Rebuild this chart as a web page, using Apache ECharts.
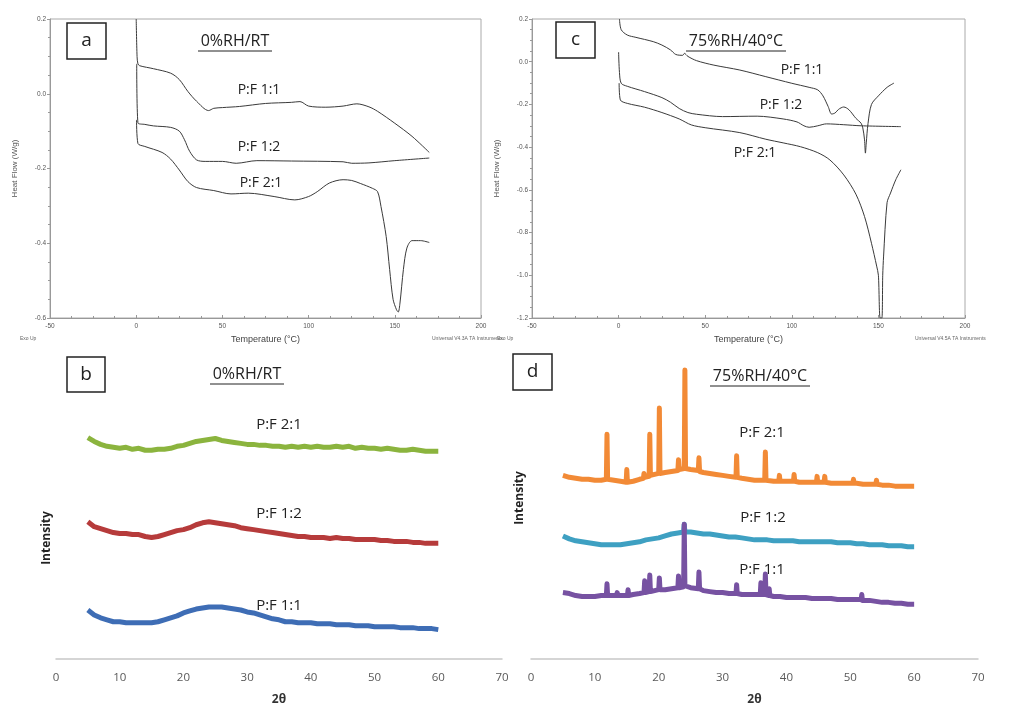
<!DOCTYPE html>
<html>
<head>
<meta charset="utf-8">
<script src="https://cdn.jsdelivr.net/npm/echarts@6/dist/echarts.min.js"></script>
<style>html,body{margin:0;padding:0;background:#fff;}#c{width:1011px;height:707px;}</style>
</head>
<body>
<div id="c"></div>
<script>
// ---------- DSC (panel a: 0%RH/RT) : [temperature °C, heat flow W/g] ----------
const dscA_11 = [[0,0.2],[0.5,0.1],[1,0.08],[2,0.075],[10,0.067],[20,0.055],[25,0.038],[30,0.006],[35,-0.02],[42,-0.045],[45,-0.039],[50,-0.037],[60,-0.034],[75,-0.026],[90,-0.023],[95,-0.021],[100,-0.033],[110,-0.036],[120,-0.033],[128,-0.027],[135,-0.035],[140,-0.047],[150,-0.079],[160,-0.114],[170,-0.157]];
const dscA_12 = [[0.3,0.08],[1,-0.078],[5,-0.082],[10,-0.086],[20,-0.09],[25,-0.1],[28,-0.123],[31,-0.154],[35,-0.177],[40,-0.181],[50,-0.181],[58,-0.186],[70,-0.179],[90,-0.18],[120,-0.182],[125,-0.186],[135,-0.185],[150,-0.179],[170,-0.172]];
const dscA_21 = [[0.2,-0.07],[1,-0.133],[5,-0.141],[15,-0.157],[20,-0.175],[25,-0.204],[30,-0.235],[35,-0.251],[45,-0.259],[55,-0.268],[65,-0.266],[80,-0.275],[92,-0.284],[100,-0.275],[105,-0.262],[112,-0.239],[120,-0.23],[125,-0.232],[130,-0.24],[137,-0.253],[140,-0.262],[142,-0.302],[145,-0.382],[147,-0.47],[149,-0.55],[151,-0.578],[152,-0.584],[153,-0.56],[155,-0.47],[157,-0.413],[160,-0.393],[165,-0.393],[170,-0.398]];
// ---------- DSC (panel c: 75%RH/40°C) ----------
const dscC_11 = [[0.5,0.2],[1.5,0.15],[5,0.125],[10,0.114],[20,0.094],[25,0.078],[30,0.055],[33,0.034],[37,0.03],[38,0.039],[40,0.025],[45,0.005],[55,-0.016],[70,-0.039],[85,-0.07],[100,-0.101],[110,-0.12],[115,-0.132],[118,-0.16],[121,-0.21],[123,-0.245],[125,-0.24],[127,-0.223],[130,-0.212],[133,-0.225],[137,-0.265],[140,-0.288],[141,-0.31],[142,-0.366],[142.5,-0.428],[143,-0.38],[144,-0.29],[146,-0.2],[150,-0.16],[155,-0.12],[159,-0.1]];
const dscC_12 = [[0,0.045],[0.5,-0.05],[1.5,-0.101],[5,-0.115],[15,-0.14],[25,-0.168],[30,-0.19],[35,-0.219],[40,-0.238],[45,-0.246],[60,-0.257],[80,-0.255],[95,-0.268],[103,-0.282],[107,-0.3],[110,-0.307],[115,-0.3],[120,-0.291],[130,-0.295],[140,-0.3],[163,-0.304]];
const dscC_21 = [[0.3,-0.1],[1,-0.179],[5,-0.195],[15,-0.213],[25,-0.238],[35,-0.268],[42,-0.296],[50,-0.309],[70,-0.332],[85,-0.363],[95,-0.38],[105,-0.398],[115,-0.426],[122,-0.46],[130,-0.53],[137,-0.62],[142,-0.725],[146,-0.85],[149,-0.957],[150,-1.0],[151,-1.2],[152,-1.2],[152.5,-1.0],[153,-0.91],[155,-0.66],[157,-0.615],[160,-0.553],[163,-0.506]];

// ---------- XRD (panel b: 0%RH/RT) : 2θ from 5 to 60 step 1, offset intensity (a.u.) ----------
const twoTheta = [5,6,7,8,9,10,11,12,13,14,15,16,17,18,19,20,21,22,23,24,25,26,27,28,29,30,31,32,33,34,35,36,37,38,39,40,41,42,43,44,45,46,47,48,49,50,51,52,53,54,55,56,57,58,59,60];
const xrdB_21 = [226,222,219,217,216,215,216,214,215,213,213,214,214,215,217,218,220,222,223,224,225,223,222,221,220,219,219,218,218,217,217,216,217,216,217,216,217,216,216,217,216,217,215,216,215,215,214,215,214,213,213,214,213,212,212,212];
const xrdB_12 = [140,135,133,131,129,128,128,127,127,125,124,125,127,129,131,132,134,137,139,140,139,138,137,136,134,133,132,131,130,129,128,127,126,125,125,124,124,124,123,124,123,123,122,122,122,122,121,121,120,120,120,119,119,118,118,118];
const xrdB_11 = [50,45,42,40,38,38,37,37,37,37,37,38,40,42,44,47,49,51,52,53,53,53,52,51,50,48,47,45,43,41,40,38,38,37,37,37,36,36,36,35,35,35,34,34,34,33,33,33,33,32,32,32,31,31,31,30];

// ---------- XRD (panel d: 75%RH/40°C) : [2θ, intensity] ----------
const xrdD_21 = [[5,188],[6,186],[7,185],[8,184],[9,184],[10,183],[11,183],[11.8,184],[11.9,230],[12.0,184],[13,183],[14,182],[14.9,181],[15.0,194],[15.1,181],[16,182],[17,184],[17.6,185],[17.7,190],[17.8,186],[18,187],[18.5,187],[18.6,230],[18.7,188],[19,188],[20.0,190],[20.1,257],[20.2,190],[21,191],[22,192],[23.0,193],[23.1,204],[23.2,194],[24.0,195],[24.1,296],[24.2,195],[25,194],[26.2,193],[26.3,206],[26.4,192],[27,191],[28,190],[29,189],[30,188],[31,187],[32.1,186],[32.2,208],[32.3,186],[33,185],[34,184],[35,183],[36,183],[36.6,183],[36.7,212],[36.8,183],[37,182],[38,182],[38.8,182],[38.9,188],[39,182],[40,182],[41.1,182],[41.2,189],[41.3,182],[42,181],[43,181],[44,181],[44.7,181],[44.8,187],[44.9,181],[45.9,181],[46.0,187],[46.1,181],[47,180],[48,180],[49,180],[50,180],[50.4,180],[50.5,184],[50.6,180],[51,180],[52,179],[53,179],[54,179],[54.1,183],[54.2,179],[55,178],[56,178],[57,177],[58,177],[59,177],[60,177]];
const xrdD_12 = [[5,126],[6,123],[7,121],[8,120],[9,119],[10,118],[11,117],[12,117],[13,117],[14,117],[15,118],[16,119],[17,120],[18,122],[19,123],[20,124],[21,126],[22,128],[23,129],[23.9,130],[24.0,138],[24.1,130],[25,130],[26,129],[27,128],[28,128],[29,127],[30,126],[31,125],[32,125],[33,124],[34,123],[35,122],[36,122],[37,122],[38,121],[39,121],[40,121],[41,121],[42,120],[43,120],[44,120],[45,120],[46,120],[47,120],[48,119],[49,119],[50,119],[51,118],[52,118],[53,117],[54,117],[55,117],[56,116],[57,116],[58,116],[59,115],[60,115]];
const xrdD_11 = [[5,68],[6,67],[7,65],[8,64],[9,64],[10,64],[11,65],[11.8,65],[11.9,77],[12.0,65],[13,65],[13.4,65],[13.5,68],[13.6,65],[14,65],[15.1,65],[15.2,71],[15.3,65],[16,66],[17,67],[17.7,68],[17.8,80],[17.9,68],[18.5,69],[18.6,86],[18.7,69],[19,70],[20.0,71],[20.1,83],[20.2,71],[21,71],[22,72],[23.0,73],[23.1,85],[23.2,73],[23.9,74],[24.0,138],[24.1,75],[25,73],[26.2,72],[26.3,89],[26.4,72],[27,70],[28,69],[29,68],[30,68],[31,67],[32.1,67],[32.2,76],[32.3,67],[33,66],[34,66],[35,66],[35.9,66],[36.0,78],[36.1,66],[36.6,66],[36.7,87],[36.8,66],[37.2,65],[37.3,72],[37.4,65],[38,64],[39,64],[40,63],[41,63],[42,63],[43,63],[44,62],[45,62],[46,62],[47,62],[48,61],[49,61],[50,61],[51,61],[51.7,61],[51.8,66],[51.9,60],[52,60],[53,60],[54,59],[55,58],[56,58],[57,57],[58,57],[59,56],[60,56]];

// ---------- labels ----------
const seriesNames = ['P:F 1:1','P:F 1:2','P:F 2:1'];
const condDry = '0%RH/RT';
const condHumid = '75%RH/40°C';

const chart = echarts.init(document.getElementById('c'), null, {renderer:'canvas'});
const pair = (xs, ys) => xs.map((x,i)=>[x, ys[i]]);

const dscX = (gi) => ({
  gridIndex: gi, type:'value', min:-50, max:200, interval:50,
  name:'Temperature (°C)', nameLocation:'middle', nameGap:17,
  nameTextStyle:{fontFamily:'Liberation Sans', fontSize:9, color:'#444'},
  axisLine:{onZero:false, lineStyle:{color:'#999', width:1}},
  axisTick:{inside:true, length:3, lineStyle:{color:'#999'}},
  minorTick:{show:true, splitNumber:4, length:2, lineStyle:{color:'#999'}},
  axisLabel:{fontFamily:'Liberation Sans', fontSize:6.5, color:'#555', margin:5},
  splitLine:{show:false}
});
const dscY = (gi, min) => ({
  gridIndex: gi, type:'value', min:min, max:0.2, interval:0.2,
  name:'Heat Flow (W/g)', nameLocation:'middle', nameGap:31,
  nameTextStyle:{fontFamily:'Liberation Sans', fontSize:8, color:'#555'},
  axisLine:{show:true, onZero:false, lineStyle:{color:'#999', width:1}},
  axisTick:{length:3, lineStyle:{color:'#999'}},
  minorTick:{show:true, splitNumber:4, length:2, lineStyle:{color:'#999'}},
  axisLabel:{fontFamily:'Liberation Sans', fontSize:6.5, color:'#555', margin:4, formatter:(v)=>v.toFixed(1)},
  splitLine:{show:false}
});
const xrdX = (gi) => ({
  gridIndex: gi, type:'value', min:0, max:70, interval:10,
  name:'2θ', nameLocation:'middle', nameGap:35,
  nameTextStyle:{fontFamily:'Open Sans', fontSize:12, fontWeight:'bold', color:'#333'},
  axisLine:{onZero:false, lineStyle:{color:'#c8c8c8', width:1.5}},
  axisTick:{show:false},
  axisLabel:{fontFamily:'Open Sans', fontSize:11.5, color:'#595959', margin:13},
  splitLine:{show:false}
});
const xrdY = (gi) => ({gridIndex:gi, type:'value', min:0, max:300, show:false, splitLine:{show:false}});

const dscLine = (data, xi) => ({type:'line', xAxisIndex:xi, yAxisIndex:xi, data:data, showSymbol:false, smooth:0.3, lineStyle:{color:'#3a3a3a', width:1}, silent:true});
const xrdLine = (data, xi, color) => ({type:'line', xAxisIndex:xi, yAxisIndex:xi, data:data, showSymbol:false, lineStyle:{color:color, width:5, join:'round'}, silent:true});

const box = (x,y,w,h,letter) => [
  {type:'rect', shape:{x:x,y:y,width:w,height:h}, style:{fill:'#fff', stroke:'#222', lineWidth:1.5}, z:10},
  {type:'text', x:x+w/2, y:y+h/2, z:11, style:{text:letter, fill:'#222', font:'19px "Open Sans"', align:'center', verticalAlign:'middle'}}
];
const title = (cx,cy,text,w) => [
  {type:'text', x:cx, y:cy, z:11, style:{text:text, fill:'#222', font:'16px "Open Sans"', align:'center', verticalAlign:'middle'}},
  {type:'line', shape:{x1:cx-w/2, y1:cy+10, x2:cx+w/2, y2:cy+10}, style:{stroke:'#222', lineWidth:1}, z:11}
];
const lbl = (cx,cy,text,size) => ({type:'text', x:cx, y:cy, z:11, style:{text:text, fill:'#222', font:(size||14)+'px "Open Sans"', align:'center', verticalAlign:'middle'}});
const small = (x,y,text,align) => ({type:'text', x:x, y:y, z:11, style:{text:text, fill:'#666', font:'5px "Liberation Sans"', align:align||'left', verticalAlign:'middle'}});

const option = {
  animation:false,
  backgroundColor:'#fff',
  grid:[
    {left:50, top:19, width:431, height:299, show:true, borderColor:'#aaa', borderWidth:1, backgroundColor:'transparent'},
    {left:532, top:19, width:433, height:299, show:true, borderColor:'#aaa', borderWidth:1, backgroundColor:'transparent'},
    {left:56, top:365, width:446, height:300},
    {left:531, top:366, width:447, height:300}
  ],
  xAxis:[dscX(0), dscX(1), xrdX(2), xrdX(3)],
  yAxis:[dscY(0,-0.6), dscY(1,-1.2), xrdY(2), xrdY(3)],
  series:[
    dscLine(dscA_11,0), dscLine(dscA_12,0), dscLine(dscA_21,0),
    dscLine(dscC_11,1), dscLine(dscC_12,1), dscLine(dscC_21,1),
    xrdLine(pair(twoTheta,xrdB_21),2,'#8bb43e'),
    xrdLine(pair(twoTheta,xrdB_12),2,'#b63b3b'),
    xrdLine(pair(twoTheta,xrdB_11),2,'#3e6db5'),
    xrdLine(xrdD_21,3,'#f28a36'),
    xrdLine(xrdD_12,3,'#3ea0c2'),
    xrdLine(xrdD_11,3,'#7752a2')
  ],
  graphic:[
    ...box(67,23,39,36,'a'),
    ...box(556,22,39,36,'c'),
    ...box(67,357,38,35,'b'),
    ...box(513,354,39,36,'d'),
    ...title(235,41,condDry,74),
    ...title(736,41,condHumid,100),
    ...title(247,374,condDry,74),
    ...title(760,376,condHumid,100),
    lbl(259,90,seriesNames[0]), lbl(259,147,seriesNames[1]), lbl(261,183,seriesNames[2]),
    lbl(802,70,seriesNames[0]), lbl(781,105,seriesNames[1]), lbl(755,153,seriesNames[2]),
    lbl(279,425,seriesNames[2],15), lbl(279,514,seriesNames[1],15), lbl(279,606,seriesNames[0],15),
    lbl(762,433,seriesNames[2],15), lbl(763,518,seriesNames[1],15), lbl(762,570,seriesNames[0],15),
    {type:'text', x:47, y:538, rotation:Math.PI/2, z:11, style:{text:'Intensity', fill:'#222', font:'bold 12px "Open Sans"', align:'center', verticalAlign:'middle'}},
    {type:'text', x:520, y:498, rotation:Math.PI/2, z:11, style:{text:'Intensity', fill:'#222', font:'bold 12px "Open Sans"', align:'center', verticalAlign:'middle'}},
    small(20,339,'Exo Up'), small(432,339,'Universal V4.3A TA Instruments'),
    small(497,339,'Exo Up'), small(915,339,'Universal V4.5A TA Instruments')
  ]
};
chart.setOption(option);
</script>
</body>
</html>
